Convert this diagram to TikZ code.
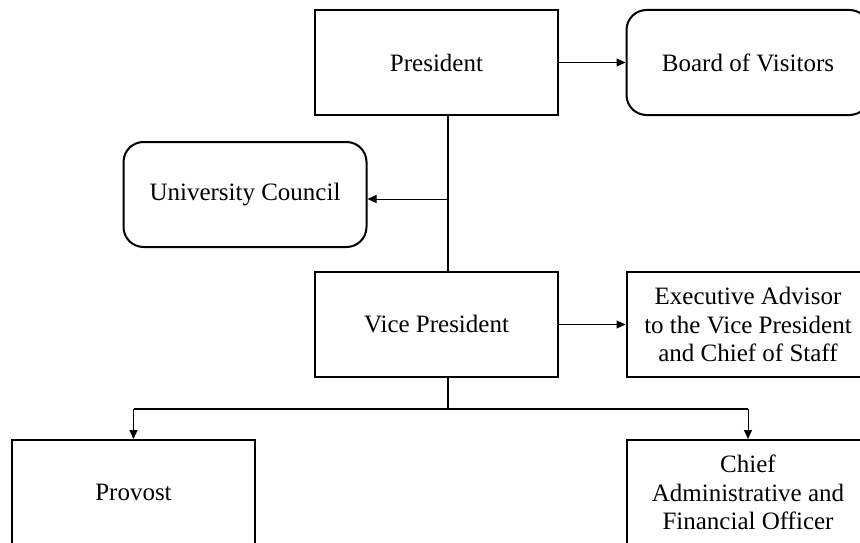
\documentclass[tikz,border=0pt]{standalone}
\usepackage{fontspec}
\setmainfont{Liberation Serif}
\usetikzlibrary{arrows.meta}
\begin{document}
\begin{tikzpicture}[x=1pt,y=-1pt,
  box/.style={draw,line width=2pt,rectangle,minimum width=243pt,minimum height=105pt,
    align=center,inner sep=2pt,font=\fontsize{25}{28.3}\selectfont},
  rbox/.style={box,rounded corners=20pt},
  conn/.style={line width=1.6pt},
  arr/.style={line width=1pt,-{Triangle[length=9pt,width=8pt]}}]
\useasboundingbox (0,0) rectangle (860,543);
\clip (0,0) rectangle (860,543);
\node[box]  (pres) at (436.5,62.5) {President};
\node[rbox] (bov)  at (748,62.5)   {Board of Visitors};
\node[rbox] (uc)   at (245,194.5)  {University Council};
\node[box]  (vp)   at (436.5,324.5) {Vice President};
\node[box]  (ea)   at (748,324.5)  {Executive Advisor\\to the Vice President\\and Chief of Staff};
\node[box]  (prov) at (133.5,492.5) {Provost};
\node[box]  (cafo) at (748,492.5)  {Chief\\Administrative and\\Financial Officer};
\coordinate (j1) at (448,199);
\coordinate (j2) at (448,409);
\draw[conn] (pres.south -| j1) -- (vp.north -| j1);
\draw[arr] (j1) -- (uc.east |- j1);
\draw[arr] (pres.east) -- (bov.west |- pres.east);
\draw[arr] (vp.east) -- (ea.west);
\draw[conn] (vp.south -| j2) -- (j2);
\draw[conn] (j2) -- (j2 -| prov.north);
\draw[conn] (j2) -- (j2 -| cafo.north);
\draw[arr] (j2 -| prov.north) -- (prov.north);
\draw[arr] (j2 -| cafo.north) -- (cafo.north);
\end{tikzpicture}
\end{document}
